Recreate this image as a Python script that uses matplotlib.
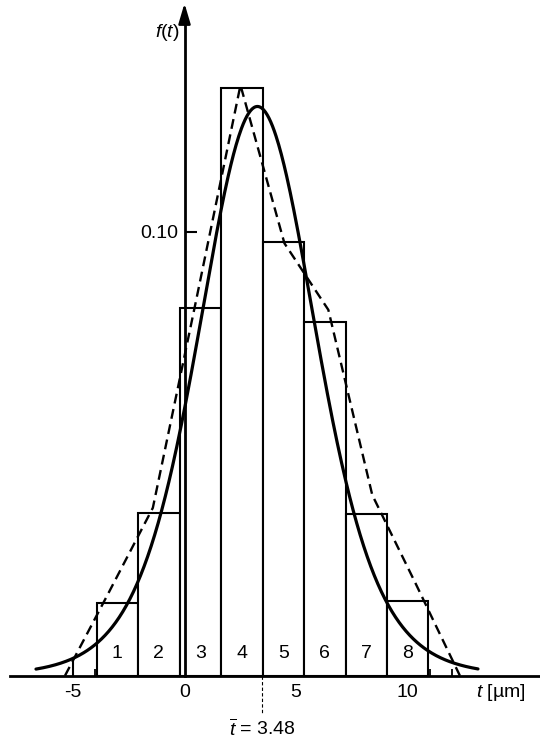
import numpy as np
import matplotlib
matplotlib.use("Agg")
import matplotlib.pyplot as plt
from matplotlib.ticker import FixedLocator

plt.rcParams['font.family'] = ['Liberation Sans', 'DejaVu Sans']
plt.rcParams['mathtext.fontset'] = 'custom'
plt.rcParams['mathtext.rm'] = 'Liberation Sans'
plt.rcParams['mathtext.it'] = 'Liberation Sans:italic'

# ---------------- data ----------------
bin_edges = [-3.94, -2.08, -0.22, 1.64, 3.50, 5.36, 7.22, 9.08, 10.94]
bar_heights = [0.0164, 0.0366, 0.0829, 0.1324, 0.0976, 0.0797, 0.0364, 0.0169]
bar_labels = ['1', '2', '3', '4', '5', '6', '7', '8']

poly_t = [-5.36, -3.39, -1.42, 0.54, 2.51, 4.48, 6.45, 8.42, 10.38, 12.35]
poly_f = [0.0, 0.0188, 0.0378, 0.0850, 0.1330, 0.0974, 0.0824, 0.0407, 0.0206, 0.0]

curve_mu = 3.27
curve_peak = 0.1282
curve_scale = 2.70
curve_shape = 8
curve_start = -6.66
curve_end = 13.16

mean_t = 3.48
mean_label = r'$\overline{t}$ = 3.48'

x_major = [-5, 0, 5, 10]
x_major_labels = ['-5', '0', '5', '10']
x_minor = [-4, -3, -2, -1, 1, 2, 3, 4, 6, 7, 8, 9, 11, 12]
y_ticks = [0.10]
y_tick_labels = ['0.10']
x_title = r'$t$ [µm]'
y_title = r'$f(t)$'

FS = 14

# ---------------- figure ----------------
fig = plt.figure(figsize=(5.4, 7.4), dpi=100)
ax = fig.add_axes([0, 0, 1, 1])
ax.set_xlim(-8.274, 15.942)
ax.set_ylim(-0.01448, 0.15218)
ax.patch.set_alpha(0)

lefts = np.array(bin_edges[:-1])
widths = np.diff(bin_edges)
ax.bar(lefts, bar_heights, width=widths, align='edge', facecolor='white',
       edgecolor='black', linewidth=1.5, zorder=2)
for l, w, lab in zip(lefts, widths, bar_labels):
    ax.text(l + w / 2, 0.0051, lab, ha='center', va='center', fontsize=FS, zorder=5)

t = np.linspace(curve_start, curve_end, 500)
z = (t - curve_mu) / curve_scale
f = curve_peak * (1 + z ** 2 / curve_shape) ** (-(curve_shape + 1) / 2)
ax.plot(t, f, color='black', lw=2.3, zorder=4, solid_capstyle='round')

ax.plot(poly_t, poly_f, color='black', lw=1.7, dashes=(4.2, 2.4), zorder=3)

# mean marker
ax.plot([mean_t, mean_t], [0, -0.0084], color='black', lw=0.8, dashes=(3, 2), zorder=3)
ax.text(mean_t, -0.0134, mean_label, ha='center', va='baseline', fontsize=FS)

# axes
for s in ['top', 'right']:
    ax.spines[s].set_visible(False)
ax.spines['bottom'].set_position(('data', 0))
ax.spines['bottom'].set_bounds(-7.83, 15.94)
ax.spines['bottom'].set_linewidth(2.0)
ax.spines['left'].set_position(('data', 0))
ax.spines['left'].set_bounds(0, 0.1477)
ax.spines['left'].set_linewidth(2.0)
ax.annotate('', xy=(0, 0.15144), xytext=(0, 0.1470),
            arrowprops=dict(arrowstyle='-|>,head_length=1.22,head_width=0.36',
                            color='black', lw=1.8, shrinkA=0, shrinkB=0))

ax.xaxis.set_major_locator(FixedLocator(x_major))
ax.set_xticklabels(x_major_labels)
ax.xaxis.set_minor_locator(FixedLocator(x_minor))
ax.tick_params(axis='x', which='major', direction='in', length=10.5, width=1.5,
               pad=6.0, labelsize=FS)
ax.tick_params(axis='x', which='minor', direction='in', length=5, width=1.3)
ax.yaxis.set_major_locator(FixedLocator(y_ticks))
ax.set_yticklabels(y_tick_labels)
ax.tick_params(axis='y', which='major', direction='in', length=8.6, width=1.5,
               pad=4.8, labelsize=FS)

ax.text(13.05, -0.0048, x_title, ha='left', va='baseline', fontsize=FS)
ax.text(-0.23, 0.1438, y_title, ha='right', va='baseline', fontsize=FS)

fig.savefig('out.png', dpi=100)
